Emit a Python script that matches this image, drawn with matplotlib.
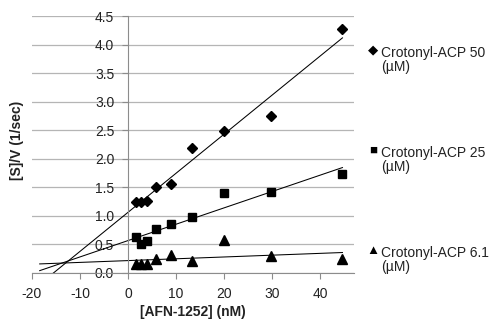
import numpy as np
import matplotlib
matplotlib.use('Agg')
import matplotlib.pyplot as plt

plt.rcParams['font.family'] = ['Liberation Sans', 'DejaVu Sans']
plt.rcParams['axes.unicode_minus'] = False

# AFN-1252 concentrations (nM), shared by all three series
afn = [1.6, 2.6, 4.0, 5.9, 8.9, 13.3, 20.0, 29.7, 44.6]

# [S]/V (1/sec) for each crotonyl-ACP concentration
rate_50 = [1.24, 1.24, 1.25, 1.50, 1.56, 2.18, 2.49, 2.75, 4.28]
rate_25 = [0.62, 0.51, 0.56, 0.77, 0.85, 0.98, 1.39, 1.41, 1.73]
rate_61 = [0.16, 0.16, 0.15, 0.235, 0.305, 0.21, 0.57, 0.29, 0.245]

series_labels = ['Crotonyl-ACP 50', 'Crotonyl-ACP 25', 'Crotonyl-ACP 6.1']
x_ticks = [-20, -10, 0, 10, 20, 30, 40]
y_ticks = [0.0, 0.5, 1.0, 1.5, 2.0, 2.5, 3.0, 3.5, 4.0, 4.5]

W, H = 493, 320
fig = plt.figure(figsize=(W / 100, H / 100), dpi=100)
ax = fig.add_axes([32 / W, 47.3 / H, 322 / W, 256.7 / H])

grey = '#8c8c8c'
markers = [('D', 5.2), ('s', 5.8), ('^', 6.5)]
for rates, (m, ms) in zip([rate_50, rate_25, rate_61], markers):
    ax.plot(afn, rates, linestyle='none', marker=m, markersize=ms,
            color='black', zorder=3)
    # Excel-style linear trendline, forecast 20 units backward
    slope, icpt = np.polyfit(afn, rates, 1)
    xs = np.array([min(afn) - 20, max(afn)])
    ax.plot(xs, slope * xs + icpt, color='black', lw=0.75, zorder=2)

ax.set_xlim(-20, 47)
ax.set_ylim(0, 4.5)
ax.set_xticks(x_ticks)
ax.set_yticks(y_ticks)
ax.set_yticklabels([f'{v:.1f}' for v in y_ticks])

ax.yaxis.grid(True, color='#b5b5b5', lw=0.9)
ax.set_axisbelow(True)
for s in ['top', 'right']:
    ax.spines[s].set_visible(False)
ax.spines['left'].set_position(('data', 0))
ax.spines['left'].set_color(grey)
ax.spines['bottom'].set_color(grey)
ax.tick_params(direction='out', length=4, color=grey, labelsize=10,
               labelcolor='#222222')
ax.tick_params(axis='y', pad=6)
ax.tick_params(axis='x', pad=6)

fig.text(193 / W, 1 - 311.7 / H, '[AFN-1252] (nM)', ha='center', va='center',
         fontsize=10, fontweight='bold', color='#222222')
fig.text(17 / W, 1 - 140 / H, '[S]/V (1/sec)', ha='center', va='center',
         rotation=90, fontsize=10, fontweight='bold', color='#222222')

# legend on the right
glyphs = ['\u25c6', '\u25a0', '\u25b2']
for i, (g, lab) in enumerate(zip(glyphs, series_labels)):
    yc = 50.7 + 100 * i
    fig.text(373 / W, 1 - yc / H, g, ha='center', va='center', fontsize=9.5,
             color='black')
    fig.text(381 / W, 1 - (yc + 6) / H, lab, ha='left', va='baseline',
             fontsize=10, color='#222222')
    fig.text(381 / W, 1 - (yc + 20) / H, '(\u00b5M)', ha='left',
             va='baseline', fontsize=10, color='#222222')

fig.savefig('out.png', dpi=100)
